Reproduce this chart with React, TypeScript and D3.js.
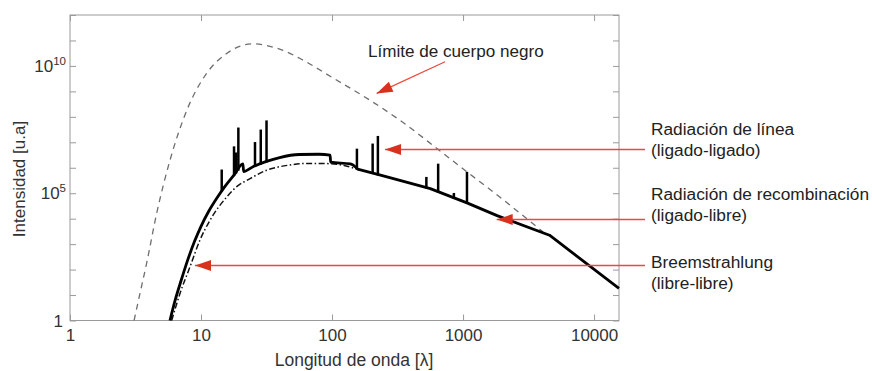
import React, { useEffect, useRef } from 'react'
import * as d3 from 'd3'

// values are log10(wavelength), log10(intensity)
// smooth part of the total spectrum (with absorption edges)
const continuumLogL = [0.763, 0.8, 0.85, 0.9, 0.95, 1.0, 1.06, 1.12, 1.18, 1.25, 1.32, 1.325, 1.4, 1.5, 1.6, 1.75, 1.9, 1.985, 1.99, 2.14, 2.195]
const continuumLogI = [0, 0.75, 1.6, 2.4, 3.1, 3.7, 4.3, 4.8, 5.25, 5.7, 6.15, 5.85, 6.05, 6.25, 6.4, 6.52, 6.53, 6.5, 6.22, 6.15, 5.95]
// straight tail of the total spectrum
const tailLogL = [2.195, 2.37, 2.75, 3.03, 3.26, 3.66, 4.19]
const tailLogI = [5.95, 5.71, 5.18, 4.62, 4.12, 3.35, 1.26]

const breemLogL = [0.776, 0.84, 0.916, 0.992, 1.07, 1.196, 1.285, 1.349, 1.5, 1.666, 1.8, 1.985, 2.1, 2.19, 2.37]
const breemLogI = [0, 1.07, 2.11, 3.16, 3.95, 4.85, 5.31, 5.5, 5.9, 6.1, 6.17, 6.16, 6.08, 5.95, 5.71]

const blackbodyLogL = [0.489, 0.54, 0.585, 0.662, 0.763, 0.891, 1.043, 1.196, 1.3, 1.397, 1.5, 1.626, 1.756, 2.0, 2.29, 2.52, 2.82, 3.03, 3.28, 3.61]
const blackbodyLogI = [0, 1.2, 2.25, 4.22, 6.29, 8.25, 9.71, 10.49, 10.78, 10.87, 10.8, 10.61, 10.29, 9.55, 8.65, 7.86, 6.68, 5.84, 4.85, 3.48]

// emission lines (log10 wavelength, log10 peak intensity)
const lineLogL = [1.158, 1.252, 1.268, 1.285, 1.412, 1.456, 1.5, 2.19, 2.31, 2.35, 2.72, 2.81, 2.93, 3.03]
const lineLogI = [5.93, 6.84, 6.6, 7.58, 7.01, 7.5, 7.86, 6.75, 6.95, 7.25, 5.64, 6.16, 5.01, 5.84]

const xTicks = [1, 10, 100, 1000, 10000]
const yTickExps = d3.range(0, 13)
const yLabelExps = [0, 5, 10]

const labels = [
  { text: ['Radiación de línea', '(ligado-ligado)'], y: 135 },
  { text: ['Radiación de recombinación', '(ligado-libre)'], y: 200 },
  { text: ['Breemstrahlung', '(libre-libre)'], y: 267.5 },
]
// arrow tips in data coords [lambda, intensity]
const arrowTips = [[254, 5.25e6], [1807, 9.8e3], [9.0, 145]]
const blackbodyArrow = { from: [729, 1.46e10], to: [219, 8.3e8] }

const FONT = 'Liberation Sans, Arial, Helvetica, sans-serif'

const App = () => {
  const svgRef = useRef(null)

  useEffect(() => {
    document.body.style.margin = '0'
    const svg = d3.select(svgRef.current)
    svg.selectAll('*').remove()

    const left = 70, right = 619, top = 15, bottom = 320.5
    const x = d3.scaleLog().domain([1, 15500]).range([left, right])
    const y = d3.scaleLog().domain([1, 1e12]).range([bottom, top])

    const toPts = (ls, is) => ls.map((l, i) => [10 ** l, 10 ** is[i]])
    const line = d3.line().x(d => x(d[0])).y(d => y(d[1])).curve(d3.curveMonotoneX)
    const straight = d3.line().x(d => x(d[0])).y(d => y(d[1]))

    // axes (ticks inward on all four sides)
    const styleAxis = g => {
      g.select('.domain').remove()
      g.selectAll('.tick line').attr('stroke', '#9a9a9a')
      g.selectAll('.tick text').attr('fill', '#333').attr('font-size', 17).attr('font-family', FONT)
    }
    svg.append('g')
      .attr('transform', `translate(0,${bottom})`)
      .call(d3.axisBottom(x).tickValues(xTicks).tickSizeInner(-6).tickSizeOuter(0).tickPadding(8).tickFormat(d3.format('d')))
      .call(styleAxis)
    svg.append('g')
      .attr('transform', `translate(0,${top})`)
      .call(d3.axisTop(x).tickValues(xTicks).tickSizeInner(-6).tickSizeOuter(0).tickFormat(() => ''))
      .call(styleAxis)
    svg.append('g')
      .attr('transform', `translate(${left},0)`)
      .call(d3.axisLeft(y).tickValues(yTickExps.map(e => 10 ** e)).tickSizeInner(-6).tickSizeOuter(0).tickFormat(() => ''))
      .call(styleAxis)
    svg.append('g')
      .attr('transform', `translate(${right},0)`)
      .call(d3.axisRight(y).tickValues(yTickExps.map(e => 10 ** e)).tickSizeInner(-6).tickSizeOuter(0).tickFormat(() => ''))
      .call(styleAxis)

    svg.append('rect')
      .attr('x', left).attr('y', top)
      .attr('width', right - left).attr('height', bottom - top)
      .attr('fill', 'none').attr('stroke', '#9a9a9a')

    // y tick labels with superscripts
    const yl = svg.append('g').attr('font-family', FONT).attr('fill', '#333').attr('font-size', 17)
    yLabelExps.forEach(e => {
      const t = yl.append('text')
        .attr('x', e === 0 ? 63 : 66)
        .attr('y', y(10 ** e) + 6)
        .attr('text-anchor', 'end')
      if (e === 0) {
        t.text('1')
      } else {
        t.append('tspan').text('10')
        t.append('tspan').attr('font-size', 11.5).attr('dy', -7).text(String(e))
      }
    })

    // axis titles
    svg.append('text')
      .attr('x', 354).attr('y', 366)
      .attr('text-anchor', 'middle')
      .attr('font-family', FONT).attr('font-size', 17.5).attr('fill', '#333')
      .text('Longitud de onda [λ]')
    svg.append('text')
      .attr('transform', 'translate(25,179) rotate(-90)')
      .attr('text-anchor', 'middle')
      .attr('font-family', FONT).attr('font-size', 17).attr('fill', '#333')
      .text('Intensidad [u.a]')

    // blackbody limit
    svg.append('path')
      .attr('d', line(toPts(blackbodyLogL, blackbodyLogI)))
      .attr('fill', 'none').attr('stroke', '#6e6e6e').attr('stroke-width', 1.3)
      .attr('stroke-dasharray', '6,5')

    // bremsstrahlung
    svg.append('path')
      .attr('d', line(toPts(breemLogL, breemLogI)))
      .attr('fill', 'none').attr('stroke', '#111').attr('stroke-width', 1.5)
      .attr('stroke-dasharray', '6,2.5,1.5,2.5')

    // total spectrum
    svg.append('path')
      .attr('d', line(toPts(continuumLogL, continuumLogI)) + straight(toPts(tailLogL, tailLogI)).replace(/^M/, 'L'))
      .attr('fill', 'none').attr('stroke', '#000').attr('stroke-width', 2.8)
      .attr('stroke-linejoin', 'round')

    // line spikes from the continuum
    const allL = continuumLogL.concat(tailLogL.slice(1))
    const allI = continuumLogI.concat(tailLogI.slice(1))
    const contAt = l => {
      const i = Math.max(1, d3.bisectLeft(allL, l))
      const l0 = allL[i - 1], l1 = allL[i]
      const t = (l - l0) / (l1 - l0)
      return allI[i - 1] + t * (allI[i] - allI[i - 1])
    }
    svg.append('g').selectAll('line')
      .data(lineLogL.map((l, i) => ({ l, top: lineLogI[i] })))
      .join('line')
      .attr('x1', d => x(10 ** d.l)).attr('x2', d => x(10 ** d.l))
      .attr('y1', d => y(10 ** contAt(d.l)) + 1)
      .attr('y2', d => y(10 ** d.top))
      .attr('stroke', '#000').attr('stroke-width', 2.5)

    // annotations
    const red = '#d8321f'
    const arrow = (x0, y0, x1, y1) => {
      svg.append('line')
        .attr('x1', x0).attr('y1', y0).attr('x2', x1).attr('y2', y1)
        .attr('stroke', '#ea4a3d').attr('stroke-width', 1.3)
      const a = Math.atan2(y1 - y0, x1 - x0)
      const L = 16, w = 5.5
      const bx = x1 - L * Math.cos(a), by = y1 - L * Math.sin(a)
      svg.append('path')
        .attr('d', `M${x1},${y1}L${bx + w * Math.sin(a)},${by - w * Math.cos(a)}L${bx - w * Math.sin(a)},${by + w * Math.cos(a)}Z`)
        .attr('fill', red)
    }
    arrowTips.forEach(([l, v]) => {
      const yy = Math.round(y(v)) + 0.5
      arrow(645, yy, x(l), yy)
    })
    arrow(x(blackbodyArrow.from[0]), y(blackbodyArrow.from[1]), x(blackbodyArrow.to[0]), y(blackbodyArrow.to[1]))

    const tl = svg.append('g').attr('font-family', FONT).attr('font-size', 17.3).attr('fill', '#222')
    labels.forEach(d => {
      d.text.forEach((s, i) => {
        tl.append('text').attr('x', 651).attr('y', d.y + i * 21).text(s)
      })
    })
    tl.append('text').attr('x', 368).attr('y', 56.5).attr('font-size', 17.1).text('Límite de cuerpo negro')
  }, [])

  return <svg ref={svgRef} width={872} height={371} style={{ display: 'block', background: '#fff' }} />
}

export default App
